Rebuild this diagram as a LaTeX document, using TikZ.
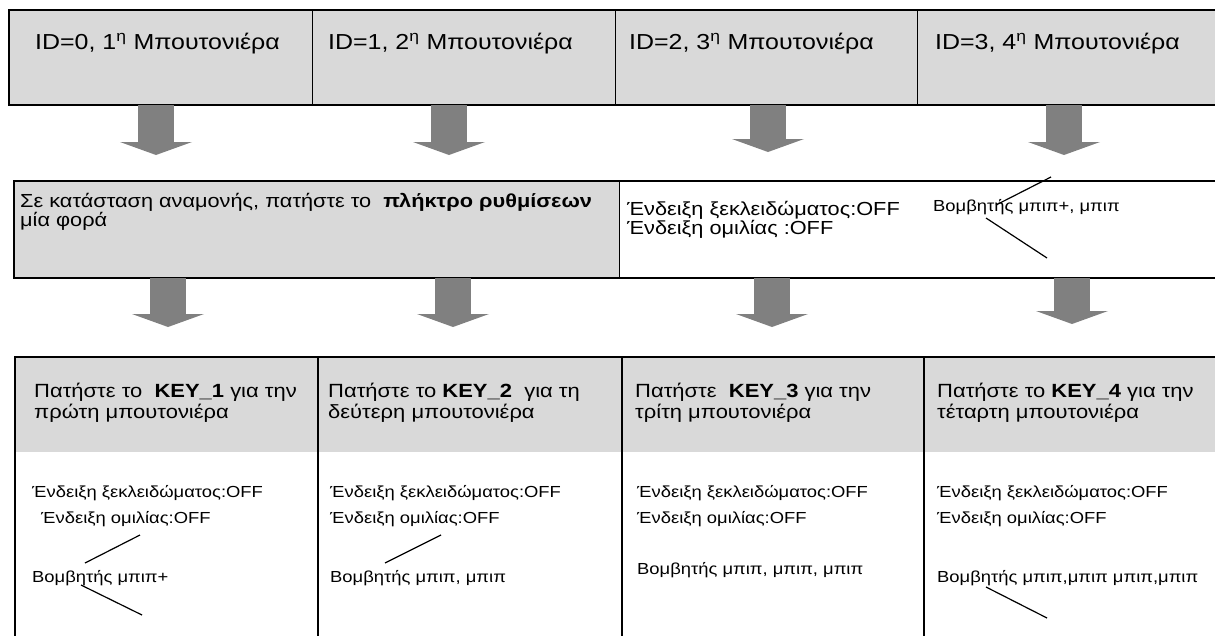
\documentclass[tikz,border=0pt]{standalone}
\usepackage{fontspec}
\setmainfont{Liberation Sans}[FakeStretch=1.15]
\usetikzlibrary{positioning}
\usetikzlibrary{arrows.meta}
\definecolor{cellgray}{HTML}{D9D9D9}
\definecolor{arrowgray}{HTML}{808080}
\tikzset{
    idcell/.style = {rectangle, draw=black, line width=1.3pt, fill=cellgray, anchor=north west, minimum width=303pt, minimum height=94pt, inner sep=0pt},
    keycell/.style = {rectangle, fill=cellgray, anchor=north west, minimum width=304pt, minimum height=95pt, inner sep=0pt},
    bodycell/.style = {rectangle, fill=white, anchor=north west, minimum width=304pt, minimum height=190pt, inner sep=0pt},
    rowframe/.style = {line width=1.8pt, draw=black},
    divider/.style = {line width=1.4pt, draw=black},
    blockarrow/.style = {line width=36pt, draw=arrowgray, -{Triangle[width=72pt,length=13pt,line width=0pt]}},
    pointer/.style = {line width=1.2pt, draw=black},
    idtext/.style = {anchor=base west, inner sep=0pt, font=\fontsize{21.7}{25}\selectfont},
    midtext/.style = {anchor=base west, inner sep=0pt, font=\fontsize{18.9}{22}\selectfont},
    keytext/.style = {anchor=base west, inner sep=0pt, font=\fontsize{19.1}{22}\selectfont},
    bodytext/.style = {anchor=base west, inner sep=0pt, font=\fontsize{16}{19}\selectfont},
    beeptext/.style = {anchor=base west, inner sep=0pt, font=\fontsize{16}{19}\selectfont}
}

\begin{document}
\begin{tikzpicture}[x=1pt,y=-1pt]
\useasboundingbox (0,0) rectangle (1215,635);
%
% top row
\node[idcell] (id0) at (9,10) {};
\node[idcell] (id1) at (312,10) {};
\node[idcell] (id2) at (615,10) {};
\node[idcell, minimum width=310pt] (id3) at (917,10) {};
\draw[rowframe] (id3.north east) -- (id0.north west) -- (id0.south west) -- (id3.south east);
\node[idtext] (t0) at ([shift={(26,39)}]id0.north west) {ID=0, 1\textsuperscript{η} Μπουτονιέρα};
\node[idtext] (t1) at ([shift={(16,39)}]id1.north west) {ID=1, 2\textsuperscript{η} Μπουτονιέρα};
\node[idtext] (t2) at ([shift={(14,39)}]id2.north west) {ID=2, 3\textsuperscript{η} Μπουτονιέρα};
\node[idtext] (t3) at ([shift={(18,39)}]id3.north west) {ID=3, 4\textsuperscript{η} Μπουτονιέρα};
%
% middle row
\node[idcell, minimum width=605pt, minimum height=96pt] (wait) at (14,181) {};
\node[idcell, fill=white, minimum width=610pt, minimum height=96pt] (info) at (619,181) {};
\draw[rowframe] (info.north east) -- (wait.north west) -- (wait.south west) -- (info.south east);
\node[midtext] (w1) at ([shift={(6,26)}]wait.north west) {Σε κατάσταση αναμονής, πατήστε το\ \ \textbf{πλήκτρο ρυθμίσεων}};
\node[midtext] (w2) at ([shift={(6,45)}]wait.north west) {μία φορά};
\node[midtext] (i1) at ([shift={(8,34)}]info.north west) {Ένδειξη ξεκλειδώματος:OFF};
\node[midtext] (i2) at ([shift={(8,53)}]info.north west) {Ένδειξη ομιλίας :OFF};
\node[beeptext] (b0) at ([shift={(314,30)}]info.north west) {Βομβητής μπιπ+, μπιπ};
\draw[pointer] (996,205) -- (1051,177);
\draw[pointer] (986,218) -- (1047,258);
%
% bottom row
\node[keycell, minimum width=303pt] (key1) at (15,357) {};
\node[keycell] (key2) at (318,357) {};
\node[keycell, minimum width=302pt] (key3) at (622,357) {};
\node[keycell, minimum width=310pt] (key4) at (924,357) {};
\node[bodycell, minimum width=303pt] (body1) at (key1.south west) {};
\node[bodycell] (body2) at (key2.south west) {};
\node[bodycell, minimum width=302pt] (body3) at (key3.south west) {};
\node[bodycell, minimum width=310pt] (body4) at (key4.south west) {};
\draw[rowframe] (key4.north east) -- (key1.north west) -- (body1.south west);
\draw[divider] (key2.north west) -- (body2.south west);
\draw[divider] (key3.north west) -- (body3.south west);
\draw[divider] (key4.north west) -- (body4.south west);
%
\node[keytext] (k1a) at ([shift={(19,40)}]key1.north west) {Πατήστε το\ \ \textbf{KEY\_1} για την};
\node[keytext] (k1b) at ([shift={(19,61)}]key1.north west) {πρώτη μπουτονιέρα};
\node[keytext] (k2a) at ([shift={(10,40)}]key2.north west) {Πατήστε το \textbf{KEY\_2}\ \ για τη};
\node[keytext] (k2b) at ([shift={(10,61)}]key2.north west) {δεύτερη μπουτονιέρα};
\node[keytext] (k3a) at ([shift={(13,40)}]key3.north west) {Πατήστε\ \ \textbf{KEY\_3} για την};
\node[keytext] (k3b) at ([shift={(13,61)}]key3.north west) {τρίτη μπουτονιέρα};
\node[keytext] (k4a) at ([shift={(13,40)}]key4.north west) {Πατήστε το \textbf{KEY\_4} για την};
\node[keytext] (k4b) at ([shift={(13,61)}]key4.north west) {τέταρτη μπουτονιέρα};
%
\node[bodytext] (s1a) at ([shift={(17,45)}]body1.north west) {Ένδειξη ξεκλειδώματος:OFF};
\node[bodytext] (s1b) at ([shift={(26,71)}]body1.north west) {Ένδειξη ομιλίας:OFF};
\node[bodytext] (s1c) at ([shift={(17,130)}]body1.north west) {Βομβητής μπιπ+};
\node[bodytext] (s2a) at ([shift={(12,45)}]body2.north west) {Ένδειξη ξεκλειδώματος:OFF};
\node[bodytext] (s2b) at ([shift={(12,71)}]body2.north west) {Ένδειξη ομιλίας:OFF};
\node[bodytext] (s2c) at ([shift={(12,130)}]body2.north west) {Βομβητής μπιπ, μπιπ};
\node[bodytext] (s3a) at ([shift={(15,45)}]body3.north west) {Ένδειξη ξεκλειδώματος:OFF};
\node[bodytext] (s3b) at ([shift={(15,71)}]body3.north west) {Ένδειξη ομιλίας:OFF};
\node[bodytext] (s3c) at ([shift={(15,122)}]body3.north west) {Βομβητής μπιπ, μπιπ, μπιπ};
\node[bodytext] (s4a) at ([shift={(13,45)}]body4.north west) {Ένδειξη ξεκλειδώματος:OFF};
\node[bodytext] (s4b) at ([shift={(13,71)}]body4.north west) {Ένδειξη ομιλίας:OFF};
\node[bodytext] (s4c) at ([shift={(13,130)}]body4.north west) {Βομβητής μπιπ,μπιπ μπιπ,μπιπ};
\draw[pointer] (85,563) -- (140,535);
\draw[pointer] (81,585) -- (142,615);
\draw[pointer] (385,563) -- (441,535);
\draw[pointer] (986,587) -- (1047,618);
%
% arrows
\coordinate (a0) at (156,155);
\coordinate (a1) at (449,155);
\coordinate (a2) at (768,152);
\coordinate (a3) at (1064,155);
\coordinate (m0) at (168,327);
\coordinate (m1) at (453,327);
\coordinate (m2) at (772,327);
\coordinate (m3) at (1072,324);
\draw[blockarrow] (id0.south -| a0) -- (a0);
\draw[blockarrow] (id1.south -| a1) -- (a1);
\draw[blockarrow] (id2.south -| a2) -- (a2);
\draw[blockarrow] (id3.south -| a3) -- (a3);
\draw[blockarrow] (wait.south -| m0) -- (m0);
\draw[blockarrow] (wait.south -| m1) -- (m1);
\draw[blockarrow] (info.south -| m2) -- (m2);
\draw[blockarrow] (info.south -| m3) -- (m3);

\end{tikzpicture}
\end{document}
